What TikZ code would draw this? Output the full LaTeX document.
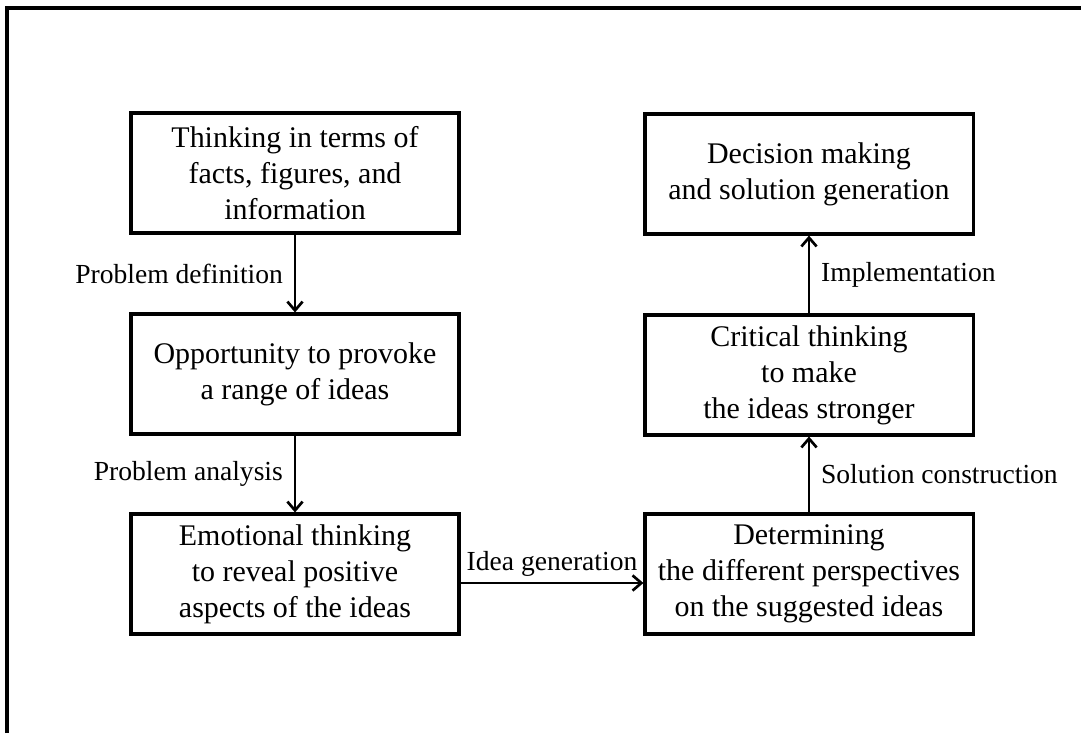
\documentclass[tikz,border=0pt]{standalone}
\usepackage{fontspec}
\setmainfont{Liberation Serif}
\usetikzlibrary{arrows.meta,positioning}

\begin{document}
\begin{tikzpicture}[
  x=0.025cm, y=-0.025cm,
  hat/.style={draw, line width=2.2pt, minimum width=8.2cm, minimum height=3.0cm, inner sep=0pt, align=center, font=\fontsize{21.3}{25.6}\selectfont},
  lbl/.style={font=\fontsize{19.6}{23}\selectfont, inner sep=0.27cm},
  arr/.style={-{Straight Barb[length=0.22cm, width=0.38cm, line width=1.9pt]}, line width=1.9pt},
]
\useasboundingbox (0,0) rectangle (1081,733);
% frame
\draw[line width=2.2pt] (7,733) -- (7,8) -- (1081,8);

% left column
\node[hat] (b1) at (295,173) {Thinking in terms of\\facts, figures, and\\information};
\node[hat] (b2) at (295,374) {Opportunity to provoke\\a range of ideas};
\node[hat] (b3) at (295,574) {Emotional thinking\\to reveal positive\\aspects of the ideas};

% right column
\node[hat] (b4) at (809,574) {Determining\\the different perspectives\\on the suggested ideas};
\node[hat] (b5) at (809,375) {Critical thinking\\to make\\the ideas stronger};
\node[hat] (b6) at (809,174) {Decision making\\and solution generation};

% arrows
\draw[arr] (b1) -- node[lbl, left] {Problem definition} (b2);
\draw[arr] (b2) -- node[lbl, left] {Problem analysis} (b3);
\draw[arr] ([yshift=-0.225cm]b3.east) -- node[lbl, above, inner sep=0.12cm] {Idea generation} ([yshift=-0.225cm]b4.west);
\draw[arr] (b4) -- node[lbl, right] {Solution construction} (b5);
\draw[arr] (b5) -- node[lbl, right] {Implementation} (b6);
\end{tikzpicture}
\end{document}
